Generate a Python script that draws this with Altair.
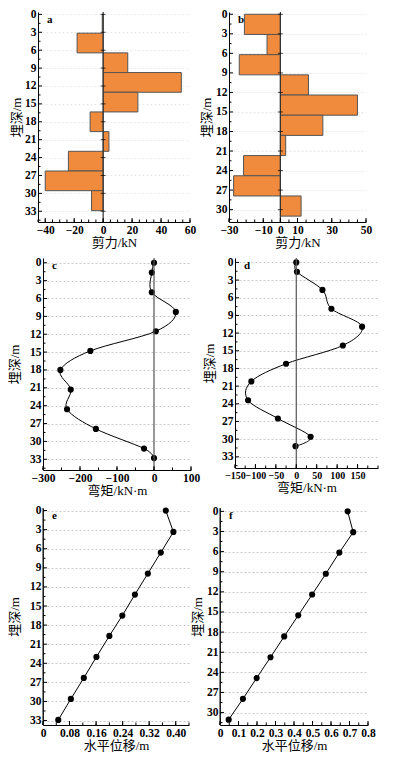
import altair as alt
import pandas as pd

FONT = "Liberation Serif, Noto Sans CJK SC"

# ---- panel a : shear force ----
a_top = [0, 3.15, 6.45, 9.75, 13.05, 16.35, 19.65, 22.95, 26.25, 29.55]
a_bot = [3.15, 6.45, 9.75, 13.05, 16.35, 19.65, 22.95, 26.25, 29.55, 32.9]
a_shear = [-0.6, -18, 17, 54, 24, -9, 4, -24, -40, -8]

# ---- panel b : shear force ----
b_top = [0, 3.1, 6.2, 9.3, 12.4, 15.5, 18.6, 21.7, 24.8, 27.9]
b_bot = [3.1, 6.2, 9.3, 12.4, 15.5, 18.6, 21.7, 24.8, 27.9, 31.0]
b_shear = [-21, -7.8, -24, 16.4, 45, 24.8, 3.1, -21.5, -27.3, 12.1]

# ---- panel c : bending moment ----
c_depth = [0, 1.65, 4.95, 8.25, 11.5, 14.8, 18.0, 21.3, 24.6, 27.9, 31.2, 32.8]
c_moment = [0, -6, -6, 59, 5, -172, -253, -225, -235, -157, -27, 0]

# ---- panel d : bending moment ----
d_depth = [0, 1.6, 4.67, 7.86, 10.9, 14.1, 17.2, 20.2, 23.4, 26.5, 29.6, 31.2]
d_moment = [0, 1.6, 64, 86, 161, 114, -25, -110, -118, -45, 35, -2]

# ---- panel e : horizontal displacement ----
e_depth = [0, 3.36, 6.6, 9.9, 13.2, 16.5, 19.7, 23.0, 26.3, 29.6, 32.9]
e_disp = [0.370, 0.393, 0.355, 0.316, 0.277, 0.239, 0.200, 0.161, 0.123, 0.084, 0.046]

# ---- panel f : horizontal displacement ----
f_depth = [0, 3.1, 6.15, 9.3, 12.4, 15.5, 18.65, 21.75, 24.85, 27.95, 31.05]
f_disp = [0.69, 0.72, 0.645, 0.572, 0.498, 0.423, 0.347, 0.273, 0.198, 0.124, 0.047]

# axis tick values
y33 = [0, 3, 6, 9, 12, 15, 18, 21, 24, 27, 30, 33]
y30 = [0, 3, 6, 9, 12, 15, 18, 21, 24, 27, 30]
xa = [-40, -20, 0, 20, 40, 60]
xb = [-30, -10, 0, 10, 30, 50]
xc = [-300, -200, -100, 0, 100]
xd = [-150, -100, -50, 0, 50, 100, 150]
xe = [0, 0.08, 0.16, 0.24, 0.32, 0.40]
xf = [0, 0.1, 0.2, 0.3, 0.4, 0.5, 0.6, 0.7, 0.8]
xa_minor = list(range(-45, 61, 5))
xb_minor = list(range(-30, 51, 5))
xc_minor = list(range(-300, 101, 50))
xd_minor = list(range(-150, 201, 25))
xe_minor = [0, 0.04, 0.08, 0.12, 0.16, 0.20, 0.24, 0.28, 0.32, 0.36, 0.40, 0.44]
xf_minor = [0, 0.05, 0.1, 0.15, 0.2, 0.25, 0.3, 0.35, 0.4, 0.45, 0.5, 0.55, 0.6, 0.65, 0.7, 0.75, 0.8]


def make_panel(W, H, xdom, xticks, xminor, xtitle, ydom, yticks, label,
               data_layers, grid_color, title_pad, xfmt=None, zero_ticks=False,
               zero_color="#333333", xlabel_size=11.5, shift=0):
    yminor = [t + 1.5 for t in yticks if t + 1.5 < ydom[1]]
    x0 = -shift

    def X(field, **kw):
        ax = dict(values=xticks, title=xtitle, ticks=False, grid=False,
                  labelPadding=2, titlePadding=1, labelOverlap=False,
                  labelFlush=False, labelFontSize=xlabel_size)
        if xfmt:
            ax["labelExpr"] = xfmt
        sc = dict(domain=xdom, nice=False, zero=False)
        if shift:
            sc["range"] = [x0, W + x0]
        return alt.X(field, type="quantitative", scale=alt.Scale(**sc),
                     axis=alt.Axis(**ax), **kw)

    def Y(field):
        return alt.Y(field, type="quantitative",
                     scale=alt.Scale(domain=ydom, reverse=True, nice=False, zero=False),
                     axis=alt.Axis(values=yticks, title="埋深/m", ticks=False,
                                   grid=True, gridDash=[2, 2], gridColor=grid_color,
                                   labelPadding=2, titlePadding=title_pad, offset=shift))

    layers = []
    layers += data_layers(X, Y)

    zero = alt.Chart(pd.DataFrame({"z": [0]})).mark_rule(
        color=zero_color, strokeWidth=1.2).encode(x=X("z"))
    layers.append(zero)
    if zero_ticks:
        layers.append(alt.Chart(pd.DataFrame({"t": yticks, "z": [0] * len(yticks)}))
                      .mark_tick(orient="horizontal", size=5, thickness=1, color="black")
                      .encode(x=X("z"), y=Y("t")))

    # inward major / minor ticks on left axis
    layers.append(alt.Chart(pd.DataFrame({"t": yticks})).mark_rule(color="black", strokeWidth=1)
                  .encode(y=Y("t"), x=alt.value(x0), x2=alt.value(x0 + 4)))
    layers.append(alt.Chart(pd.DataFrame({"t": yminor})).mark_rule(color="black", strokeWidth=1)
                  .encode(y=Y("t"), x=alt.value(x0), x2=alt.value(x0 + 2.5)))
    # inward ticks on bottom axis
    layers.append(alt.Chart(pd.DataFrame({"t": xticks})).mark_rule(color="black", strokeWidth=1)
                  .encode(x=X("t"), y=alt.value(H), y2=alt.value(H - 4)))
    layers.append(alt.Chart(pd.DataFrame({"t": xminor})).mark_rule(color="black", strokeWidth=1)
                  .encode(x=X("t"), y=alt.value(H), y2=alt.value(H - 2.5)))
    # panel letter
    layers.append(alt.Chart(pd.DataFrame({"lab": [label]})).mark_text(
        align="left", baseline="top", font="Liberation Serif", fontSize=11,
        fontWeight="bold", color="black").encode(
        x=alt.value(x0 + 9), y=alt.value(2), text="lab:N"))
    return alt.layer(*layers).properties(width=W, height=H)


def bars(top, bot, val):
    df = pd.DataFrame({"top": top, "bot": bot, "val": val, "x0": [0] * len(val)})

    def f(X, Y):
        return [alt.Chart(df).mark_rect(fill="#F08A3C", stroke="#555555", strokeWidth=1)
                .encode(x=X("x0"), x2="val", y=Y("top"), y2="bot")]
    return f


def curve(depth, val, interp):
    df = pd.DataFrame({"depth": depth, "val": val})

    def f(X, Y):
        line = alt.Chart(df).mark_line(color="black", strokeWidth=1, interpolate=interp).encode(
            x=X("val"), y=Y("depth"), order="depth:Q")
        pts = alt.Chart(df).mark_circle(color="black", size=38, opacity=1).encode(
            x=X("val"), y=Y("depth"))
        return [line, pts]
    return f


pa = make_panel(152, 210, [-45, 60], xa, xa_minor, "剪力/kN", [-0.4, 34.8], y33, "a",
                bars(a_top, a_bot, a_shear), "#e8e8e8", 1, zero_ticks=True, shift=5)
pb = make_panel(137, 210, [-30, 50], xb, xb_minor, "剪力/kN", [-0.35, 31.9], y30, "b",
                bars(b_top, b_bot, b_shear), "#e8e8e8", 2, zero_ticks=True)
pc = make_panel(148, 212, [-300, 100], xc, xc_minor, "弯矩/kN·m", [-0.8, 34.8], y33, "c",
                curve(c_depth, c_moment, "cardinal"), "#c8c8c8", 8, zero_color="#555555")
pd_ = make_panel(143, 210, [-150, 200], xd, xd_minor, "弯矩/kN·m", [-0.75, 34.9], y33, "d",
                 curve(d_depth, d_moment, "cardinal"), "#c8c8c8", 5, zero_color="#555555",
                 xlabel_size=10)
pe = make_panel(146, 217, [0, 0.44], xe, xe_minor, "水平位移/m", [-0.4, 33.7], y33, "e",
                curve(e_depth, e_disp, "linear"), "#c8c8c8", 8,
                xfmt="datum.value == 0 ? '0' : format(datum.value, '.2f')")
pf = make_panel(148, 217, [0, 0.8], xf, xf_minor, "水平位移/m", [-0.5, 31.85], y30, "f",
                curve(f_depth, f_disp, "linear"), "#c8c8c8", 2,
                xfmt="datum.value == 0 ? '0' : format(datum.value, '.1f')")

row1 = alt.hconcat(pa, pb, spacing=4)
row2 = alt.hconcat(pc, pd_, spacing=3)
row3 = alt.hconcat(pe, pf, spacing=1)

chart = alt.vconcat(row1, row2, row3, spacing=6).properties(
    padding=0).configure_view(stroke=None).configure_axis(
    labelFont=FONT, titleFont=FONT, labelFontSize=11.5, titleFontSize=13,
    labelColor="black", titleColor="black", domainColor="black", domainWidth=1,
    labelFontWeight="bold", titleFontWeight="normal")

chart.save("out.html", embed_options={"renderer": "svg", "actions": False})
